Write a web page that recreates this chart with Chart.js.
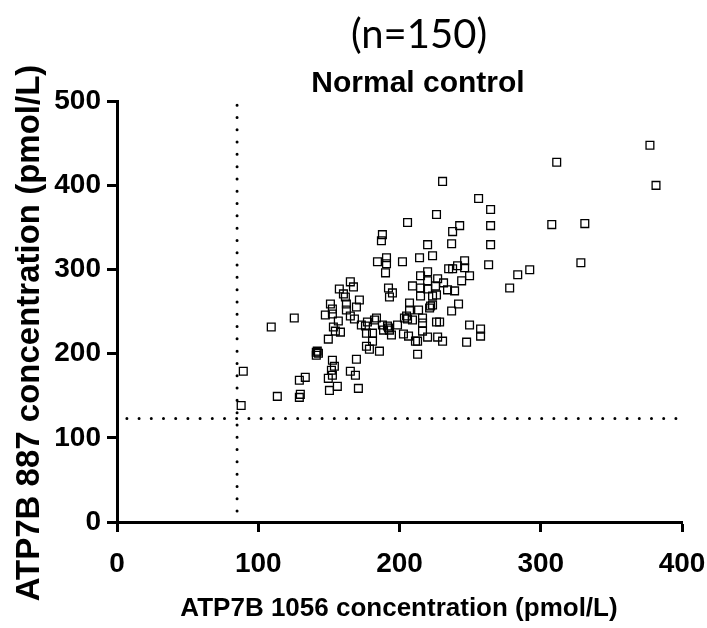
<!DOCTYPE html>
<html>
<head>
<meta charset="utf-8">
<script src="https://cdn.jsdelivr.net/npm/chart.js@4/dist/chart.umd.min.js"></script>
<style>
  html, body { margin: 0; padding: 0; background: #fff; }
  canvas { display: block; }
</style>
</head>
<body>
<canvas id="c" width="707" height="628"></canvas>
<script>
// ---- Data ----
const titleTop = "(n=150)";
const titleMain = "Normal control";
const xAxisTitle = "ATP7B 1056 concentration (pmol/L)";
const yAxisTitle = "ATP7B 887 concentration (pmol/L)";
const xTicks = [0, 100, 200, 300, 400];
const yTicks = [0, 100, 200, 300, 400, 500];

// ATP7B 1056 concentration (pmol/L)
const atp1056 = [
  89.4, 87.9, 109.2, 125.5, 113.5, 129.1, 133.3, 129.8, 129.1,
  165.2, 167.4, 157.4, 160.3, 161.7, 171.6, 151.1, 162.4, 152.5, 169.5,
  162.4, 147.5, 152.5, 165.2, 168.1, 156.7, 177.3, 153.2, 173.0, 175.9,
  154.6, 158.2, 176.6, 149.6, 176.6, 178.7, 141.1, 142.6, 141.1, 152.5,
  169.5, 153.9, 151.8, 152.5, 149.6, 165.2, 168.8, 156.0, 150.4, 170.9,
  184.4, 190.8, 190.8, 190.1, 202.1, 214.2, 214.9, 209.2, 214.9, 214.9,
  192.2, 195.0, 192.9, 207.1, 207.1, 213.5, 205.0, 203.5, 205.7, 209.2,
  216.3, 216.3, 198.6, 183.7, 182.3, 187.9, 191.5, 188.7, 192.9, 194.3,
  202.8, 206.4, 211.3, 212.8, 216.3, 180.9, 185.8, 212.8, 180.9,
  223.4, 219.9, 227.0, 231.2, 225.5, 219.9, 234.0, 239.0, 234.8, 237.6,
  241.1, 246.1, 246.1, 249.6, 244.0, 223.4, 223.4, 221.3, 222.0, 241.8,
  236.9, 226.2, 228.4, 249.6, 257.4, 257.4, 219.9, 227.0, 230.5, 247.5, 226.2,
  230.5, 256.0, 264.5, 226.2, 205.7, 242.6, 237.6, 264.5, 187.9, 187.2,
  219.9, 236.9, 264.5, 263.1,
  377.3, 311.3, 381.6, 307.8, 331.2, 328.4, 283.7, 292.2, 278.0,
  141.8, 192.2, 219.9
];
// ATP7B 887 concentration (pmol/L)
const atp887 = [
  179.0, 138.4, 231.5, 242.2, 149.2, 168.3, 171.8, 151.6, 148.0,
  285.2, 279.2, 276.8, 270.9, 267.3, 263.7, 259.0, 259.0, 253.0, 255.4,
  251.8, 245.8, 247.0, 244.6, 241.1, 238.7, 237.5, 231.5, 233.9, 232.7,
  226.7, 225.5, 224.3, 217.2, 208.8, 205.3, 201.7, 200.5, 198.1, 192.1,
  193.3, 185.0, 180.2, 174.2, 170.6, 179.0, 174.2, 161.1, 156.3, 158.7,
  309.1, 313.8, 306.7, 295.9, 309.1, 313.8, 292.4, 280.4, 278.0, 268.5,
  278.0, 272.1, 267.3, 260.1, 251.8, 251.8, 244.6, 242.2, 241.1, 239.9,
  242.2, 236.3, 233.9, 242.2, 239.9, 233.9, 232.7, 227.9, 227.9, 222.0,
  223.2, 220.8, 214.8, 214.8, 226.7, 214.8, 202.9, 199.3, 224.3,
  316.2, 297.1, 288.8, 284.0, 280.4, 276.8, 275.7, 274.5, 300.7, 300.7,
  304.3, 310.3, 301.9, 292.4, 286.4, 268.5, 257.8, 254.2, 256.6, 259.0,
  250.6, 237.5, 237.5, 233.9, 229.1, 220.8, 219.6, 219.6, 214.8, 213.6, 269.7,
  404.5, 384.2, 371.1, 365.2, 355.6, 352.0, 344.9, 352.0, 341.3, 334.1,
  329.4, 330.5, 329.4, 305.5,
  447.5, 427.2, 399.8, 353.2, 354.4, 307.9, 293.6, 299.5, 278.0,
  202.9, 230.4, 286.4
];

// Dotted cut-off lines
const cutoffX = 85;      // ATP7B 1056 cut-off
const cutoffY = 123;     // ATP7B 887 cut-off
const vLineYRange = [13, 500];
const hLineXRange = [7, 396];

// ---- Build chart ----
const points = atp1056.map((x, i) => ({ x: x, y: atp887[i] }));
const vLine = vLineYRange.map(y => ({ x: cutoffX, y: y }));
const hLine = hLineXRange.map(x => ({ x: x, y: cutoffY }));

const tickFont = { family: "'Liberation Sans', Arial, sans-serif", size: 28, weight: 'bold' };

const textPlugin = {
  id: 'texts',
  afterDraw(chart) {
    const ctx = chart.ctx;
    ctx.save();
    ctx.fillStyle = '#000';
    ctx.textAlign = 'center';
    ctx.textBaseline = 'middle';
    ctx.font = "40px Lato, 'Open Sans', sans-serif";
    ctx.fillText(titleTop, 419, 35);
    ctx.font = "bold 30px 'Liberation Sans', Arial, sans-serif";
    ctx.fillText(titleMain, 418, 84);
    ctx.font = "bold 26px 'Liberation Sans', Arial, sans-serif";
    ctx.fillText(xAxisTitle, 399, 609);
    ctx.translate(30, 333);
    ctx.rotate(-Math.PI / 2);
    ctx.font = "bold 33px 'Liberation Sans', Arial, sans-serif";
    ctx.fillText(yAxisTitle, 0, 0);
    ctx.restore();
  }
};

new Chart(document.getElementById('c'), {
  type: 'scatter',
  data: {
    datasets: [
      {
        label: 'Normal control',
        data: points,
        pointStyle: 'rect',
        pointRadius: 5.5,
        pointHoverRadius: 5.5,
        borderColor: '#000',
        backgroundColor: 'rgba(0,0,0,0)',
        pointBorderWidth: 1.3,
        showLine: false
      },
      {
        type: 'line',
        data: vLine,
        borderColor: '#000',
        borderWidth: 3,
        borderDash: [0, 12.3],
        borderCapStyle: 'round',
        pointRadius: 0,
        fill: false,
        clip: false
      },
      {
        type: 'line',
        data: hLine,
        borderColor: '#000',
        borderWidth: 3,
        borderDash: [0, 12.2],
        borderCapStyle: 'round',
        pointRadius: 0,
        fill: false,
        clip: false
      }
    ]
  },
  options: {
    responsive: false,
    animation: false,
    devicePixelRatio: 1,
    layout: { padding: { left: 0, right: 25, top: 101, bottom: 0 } },
    plugins: {
      legend: { display: false },
      title: { display: false },
      tooltip: { enabled: false }
    },
    scales: {
      x: {
        type: 'linear',
        min: xTicks[0],
        max: xTicks[xTicks.length - 1],
        afterBuildTicks: (s) => { s.ticks = xTicks.map(v => ({ value: v })); },
        afterFit: (s) => { s.height = 106; s.paddingLeft = 0; s.paddingRight = 0; },
        ticks: { font: tickFont, color: '#000', padding: 15, maxRotation: 0 },
        grid: { drawOnChartArea: false, drawTicks: true, tickLength: 10, tickWidth: 3, tickColor: '#000' },
        border: { display: true, width: 3, color: '#000' }
      },
      y: {
        type: 'linear',
        min: yTicks[0],
        max: yTicks[yTicks.length - 1],
        afterBuildTicks: (s) => { s.ticks = yTicks.map(v => ({ value: v })); },
        afterFit: (s) => { s.width = 117; s.paddingTop = 0; s.paddingBottom = 0; },
        ticks: { font: tickFont, color: '#000', padding: 6 },
        grid: { drawOnChartArea: false, drawTicks: true, tickLength: 10, tickWidth: 3, tickColor: '#000' },
        border: { display: true, width: 3, color: '#000' }
      }
    }
  },
  plugins: [textPlugin]
});
</script>
</body>
</html>
